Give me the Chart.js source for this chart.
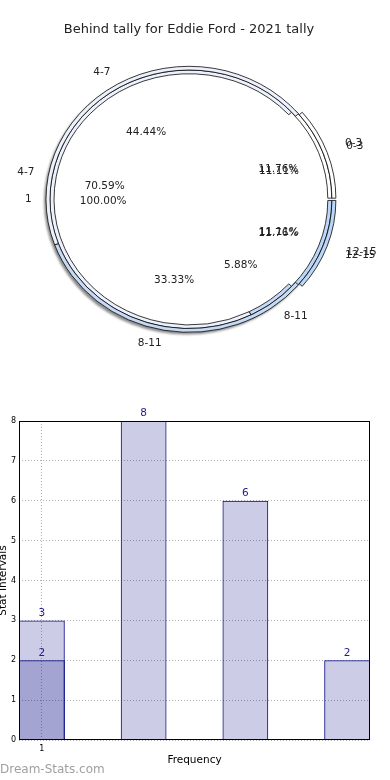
<!DOCTYPE html>
<html lang="en">
<head>
<meta charset="UTF-8">
<title>Behind tally for Eddie Ford - 2021 tally</title>
<script src="https://cdn.jsdelivr.net/npm/chart.js"></script>
<style>
  html, body { margin: 0; padding: 0; background: #fff; }
  canvas { display: block; }
</style>
</head>
<body>
<canvas id="pie" width="390" height="390"></canvas>
<canvas id="bars" width="390" height="390"></canvas>

<script>
// --- pie data ---
var intervals = ["0-3", "4-7", "8-11", "12-15"];
var ringNine = [1, 4, 3, 1];          // 11.11 / 44.44 / 33.33 / 11.11 %
var ringSeventeen = [2, 12, 1, 2];    // 11.76 / 70.59 / 5.88 / 11.76 %
var centreLabels = ["1"];
var centreValues = [1];               // 100.00 %

// --- bar data ---
var barPositions = [1, 2, 3, 4];
var barCounts = [3, 8, 6, 2];
var overlayPositions = [1];
var overlayCounts = [2];
var xTickValues = [1];
var yTickMax = 8;

// styles
var FONT = '"DejaVu Sans", "Liberation Sans", sans-serif';
var sliceColors = ["#ffffff", "#edf1fb", "#c6daf6", "#bcd6f8"];
var explodePx = [10, 0, 0, 10];
var squash = 0.93;   // pie is drawn as an ellipse

Chart.defaults.font.family = FONT;

// matplotlib goes counter clockwise from east, Chart.js clockwise -> reverse
function cw(arr) { return arr.slice().reverse(); }

var ellipsePlugin = {
  id: "ellipse",
  beforeDatasetsDraw: function(chart) {
    var c = chart.getDatasetMeta(0).data[0];
    var ctx = chart.ctx;
    ctx.save();
    ctx.translate(c.x, c.y);
    ctx.scale(1, squash);
    ctx.translate(-c.x, -c.y);
    // soft drop shadow under the pie (down-left), only outside the pie
    ctx.save();
    ctx.filter = "blur(1px)";
    ctx.fillStyle = "rgba(0,0,0,0.45)";
    ctx.beginPath();
    ctx.arc(c.x - 2, c.y + 2.5, c.outerRadius, 0, Math.PI * 2);
    ctx.fill();
    ctx.restore();
    ctx.fillStyle = "#fff";
    ctx.beginPath();
    ctx.arc(c.x, c.y, c.outerRadius - 0.5, 0, Math.PI * 2);
    ctx.fill();
  },
  afterDatasetsDraw: function(chart) {
    chart.ctx.restore();
  }
};

var pieLabelPlugin = {
  id: "pieLabels",
  afterDraw: function(chart) {
    var ctx = chart.ctx;
    var first = chart.getDatasetMeta(0).data[0];
    var cx = first.x, cy = first.y, R = first.outerRadius;
    ctx.save();
    ctx.font = "10.5px " + FONT;
    ctx.fillStyle = "#222";
    ctx.textBaseline = "middle";
    chart.data.datasets.forEach(function(ds, di) {
      var meta = chart.getDatasetMeta(di);
      var total = ds.data.reduce(function(a, b) { return a + b; }, 0);
      meta.data.forEach(function(arc, i) {
        var mid = (arc.startAngle + arc.endAngle) / 2;
        var dx = Math.cos(mid), dy = Math.sin(mid) * squash;
        var shift = ds.explode[i];
        var pct = (ds.data[i] / total * 100).toFixed(2) + "%";
        ctx.textAlign = "center";
        ctx.fillText(pct, cx + dx * (0.6 * R + shift), cy + dy * (0.6 * R + shift) + 2);
        ctx.textAlign = dx < 0 ? "right" : "left";
        ctx.fillText(ds.sliceLabels[i], cx + dx * (1.1 * R + shift), cy + dy * (1.1 * R + shift));
      });
    });
    ctx.restore();
  }
};

new Chart(document.getElementById("pie"), {
  type: "pie",
  data: {
    labels: cw(intervals),
    datasets: [{
      data: cw(ringNine),
      sliceLabels: cw(intervals),
      explode: cw(explodePx),
      backgroundColor: cw(sliceColors),
      offset: cw(explodePx).map(function(p) { return p * 1.2; }),
      borderColor: "#000",
      borderWidth: 0.8,
      weight: 4
    }, {
      data: cw(ringSeventeen),
      sliceLabels: cw(intervals),
      explode: cw(explodePx),
      backgroundColor: cw(sliceColors),
      offset: cw(explodePx).map(function(p) { return p * 1.2; }),
      borderColor: "#000",
      borderWidth: 0.8,
      weight: 4
    }, {
      data: centreValues,
      sliceLabels: centreLabels,
      explode: [0],
      backgroundColor: ["#ffffff"],
      borderWidth: 0,
      weight: 135
    }]
  },
  options: {
    responsive: false,
    animation: false,
    devicePixelRatio: 1,
    rotation: 90,
    radius: 143,
    layout: { padding: { left: 0, right: 12, top: 0, bottom: 29 } },
    plugins: {
      legend: { display: false },
      tooltip: { enabled: false },
      title: {
        display: true,
        text: "Behind tally for Eddie Ford - 2021 tally",
        color: "#222",
        font: { size: 13, weight: "normal" },
        padding: { top: 22, bottom: 0 }
      }
    }
  },
  plugins: [ellipsePlugin, pieLabelPlugin]
});

var barExtras = {
  id: "barExtras",
  afterDatasetsDraw: function(chart) {
    var ctx = chart.ctx;
    ctx.save();
    ctx.font = "10.5px " + FONT;
    ctx.fillStyle = "#1c1c96";
    ctx.textAlign = "center";
    ctx.textBaseline = "bottom";
    chart.data.datasets.forEach(function(ds, di) {
      chart.getDatasetMeta(di).data.forEach(function(bar, i) {
        ctx.fillText(String(ds.data[i].y), bar.x, bar.y - 2);
      });
    });
    ctx.restore();
  },
  afterDraw: function(chart) {
    var ctx = chart.ctx, a = chart.chartArea;
    ctx.save();
    ctx.strokeStyle = "#000";
    ctx.lineWidth = 1;
    ctx.strokeRect(a.left + 0.5, a.top + 0.5, a.right - a.left - 1, a.bottom - a.top - 1);
    ctx.font = "12px " + FONT;
    ctx.fillStyle = "#a0a0a0";
    ctx.textAlign = "left";
    ctx.textBaseline = "middle";
    ctx.fillText("Dream-Stats.com", 0, chart.height - 10);
    ctx.restore();
  }
};

function toPoints(xs, ys) {
  return xs.map(function(x, i) { return { x: x, y: ys[i] }; });
}

new Chart(document.getElementById("bars"), {
  type: "bar",
  data: {
    datasets: [{
      data: toPoints(barPositions, barCounts),
      backgroundColor: "rgba(0,0,128,0.2)",
      borderColor: "#000080",
      borderWidth: 1
    }, {
      data: toPoints(overlayPositions, overlayCounts),
      backgroundColor: "rgba(0,0,128,0.2)",
      borderColor: "#000080",
      borderWidth: 1
    }]
  },
  options: {
    responsive: false,
    animation: false,
    devicePixelRatio: 1,
    grouped: false,
    categoryPercentage: 1,
    barPercentage: 0.45,
    layout: { padding: { left: 0, right: 20, top: 31, bottom: 0 } },
    plugins: { legend: { display: false }, tooltip: { enabled: false } },
    scales: {
      x: {
        type: "linear",
        min: 0.775,
        max: 4.225,
        offset: false,
        z: 1,
        afterBuildTicks: function(s) {
          s.ticks = xTickValues.map(function(v) { return { value: v }; });
        },
        afterFit: function(s) { s.height = 40; },
        grid: { color: "#b0b0b0", drawTicks: false, offset: false },
        border: { display: false, dash: [1, 2] },
        ticks: { font: { size: 8 }, color: "#000", padding: 4 },
        title: {
          display: true, text: "Frequency", color: "#000",
          font: { size: 10.5 }, padding: { top: 0, bottom: 13.7 }
        }
      },
      y: {
        min: 0,
        max: yTickMax,
        z: 1,
        afterFit: function(s) { s.width = 19; },
        grid: { color: "#b0b0b0", drawTicks: false },
        border: { display: false, dash: [1, 2] },
        ticks: { stepSize: 1, font: { size: 8 }, color: "#000", padding: 3 },
        title: {
          display: true, text: "Stat Intervals", color: "#000",
          font: { size: 10.5 }, padding: { top: -3.3, bottom: 0 }
        }
      }
    }
  },
  plugins: [barExtras]
});
</script>
</body>
</html>
